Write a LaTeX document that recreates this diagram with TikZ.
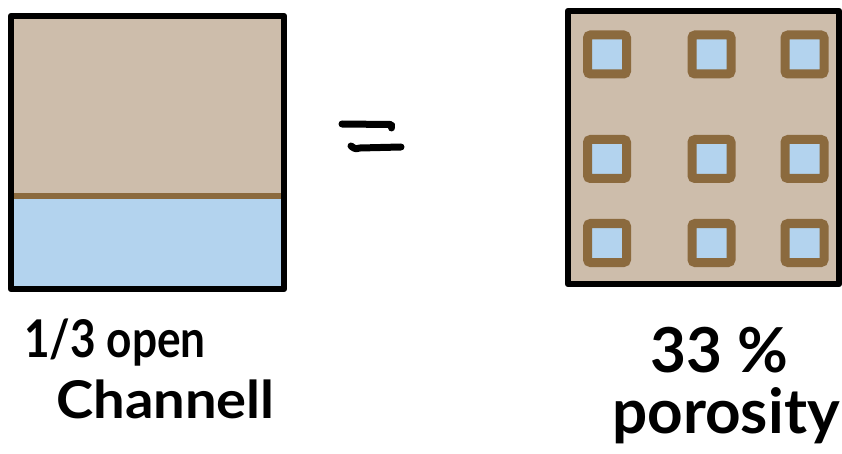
\documentclass[tikz,border=0pt]{standalone}
\usepackage{fontspec}
\setmainfont{Lato}
\definecolor{tan}{HTML}{CDBDAB}
\definecolor{water}{HTML}{B3D3EE}
\definecolor{soil}{HTML}{8B6A3E}
\begin{document}
\begin{tikzpicture}[x=1pt,y=-1pt,
  frame/.style={draw=black,line width=6.5pt,line join=round},
  pore/.style={draw=soil,line width=9pt,fill=water,rounded corners=3pt,minimum size=39pt,inner sep=0pt,outer sep=0pt,rectangle},
  eqline/.style={line width=7pt,line cap=round},
  label/.style={inner sep=0pt,anchor=base west}]
\useasboundingbox (0,0) rectangle (842,454);
% left square
\fill[tan] (11,16) rectangle (284,196);
\fill[water] (11,196) rectangle (284,289);
\draw[soil,line width=6pt] (14,196) -- (281,196);
\draw[frame] (11,16) rectangle (284,289);
% equal sign
\coordinate (e1a) at (342,124);
\coordinate (e1b) at (390,124.5);
\coordinate (e1c) at (391.5,128);
\coordinate (e2a) at (351,146);
\coordinate (e2b) at (401,147);
\draw[eqline] (e1a) -- (e1b) .. controls (391.5,125) .. (e1c);
\draw[eqline] (e2a) .. controls (355,149) .. (360,148) -- (e2b);
% right square
\fill[tan] (568,11) rectangle (839,284);
\draw[frame] (568,11) rectangle (839,284);
\foreach \cx/\cn in {607/a,711.5/b,804.5/c}
  \foreach \cy/\rn in {54.5/1,159/2,243/3}
    \node[pore] (p\cn\rn) at (\cx,\cy) {};
% labels
\node[label] (t1) at (24,357) {\scalebox{0.85}[1]{\fontsize{52}{60}\selectfont\bfseries 1/3 open}};
\node[label] (t2) at (56,418) {\scalebox{1.08}[1]{\fontsize{52}{60}\selectfont\bfseries Channell}};
\node[label] (t3) at (650,372) {\fontsize{62}{70}\selectfont\bfseries 33 \%};
\node[label] (t4) at (612,433) {\fontsize{62}{70}\selectfont\bfseries porosity};
\end{tikzpicture}
\end{document}
